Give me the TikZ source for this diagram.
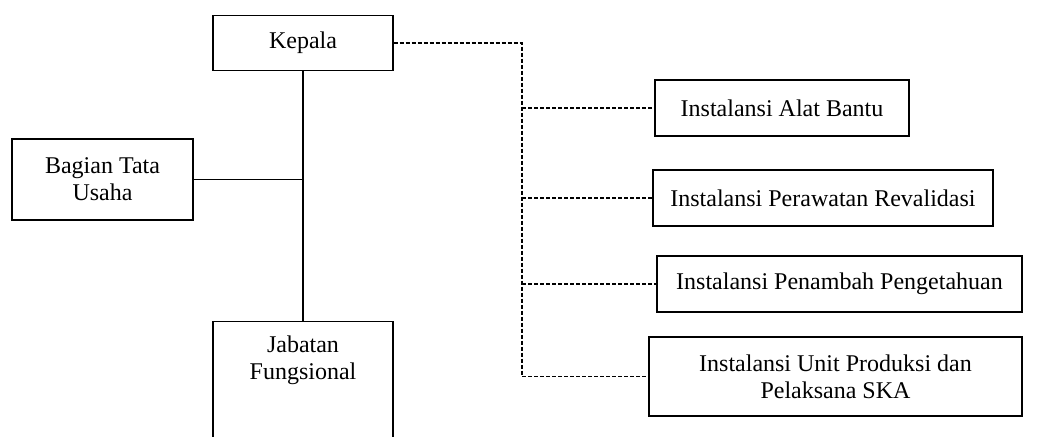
\documentclass[tikz,border=0pt]{standalone}
\usepackage{fontspec}
\setmainfont{Liberation Serif}
\usetikzlibrary{positioning}

\begin{document}
\begin{tikzpicture}[x=0.5pt,y=-0.5pt,
  every node/.style={font=\fontsize{12}{13.5}\selectfont, align=center},
  orgbox/.style={draw, line width=0.7pt},
  solidline/.style={line width=0.7pt},
  dashline/.style={line width=0.6pt, dash pattern=on 2pt off 1pt}]
\useasboundingbox (0,0) rectangle (1041,437);
\clip (0,0) rectangle (1041,437);
% left part
\node (kepala) [orgbox, minimum width=90pt, minimum height=27.5pt] at (303,43) {Kepala};
\node (tatausaha) [orgbox, minimum width=90.5pt, minimum height=40.5pt] at (102.5,179.5) {Bagian Tata\\Usaha};
\node (fungsional) [orgbox, anchor=north, minimum width=90pt, minimum height=80pt] at (303,321) {};
\node (fungsionaltext) [below=4pt of fungsional.north] {Jabatan\\Fungsional};
% right part
\node (alat) [orgbox, minimum width=127pt, minimum height=28pt] at (782,108) {Instalansi Alat Bantu};
\node (perawatan) [orgbox, minimum width=170pt, minimum height=28pt] at (823,198) {Instalansi Perawatan Revalidasi};
\node (penambah) [orgbox, minimum width=182.5pt, minimum height=28pt] at (839.5,284) {Instalansi Penambah Pengetahuan};
\node (produksi) [orgbox, minimum width=186.5pt, minimum height=39.5pt] at (835.5,376.5) {Instalansi Unit Produksi dan\\Pelaksana SKA};
% connectors
\draw [solidline] (kepala.south) -- (fungsional.north);
\draw [solidline] (tatausaha.east) -- (tatausaha.east -| kepala.south);
\coordinate (bus) at (522,43);
\draw [dashline] (kepala.east) -- (bus) |- (produksi.west);
\foreach \n in {alat,perawatan,penambah}
  \draw [dashline] (bus |- \n.west) -- (\n.west);
\end{tikzpicture}
\end{document}
